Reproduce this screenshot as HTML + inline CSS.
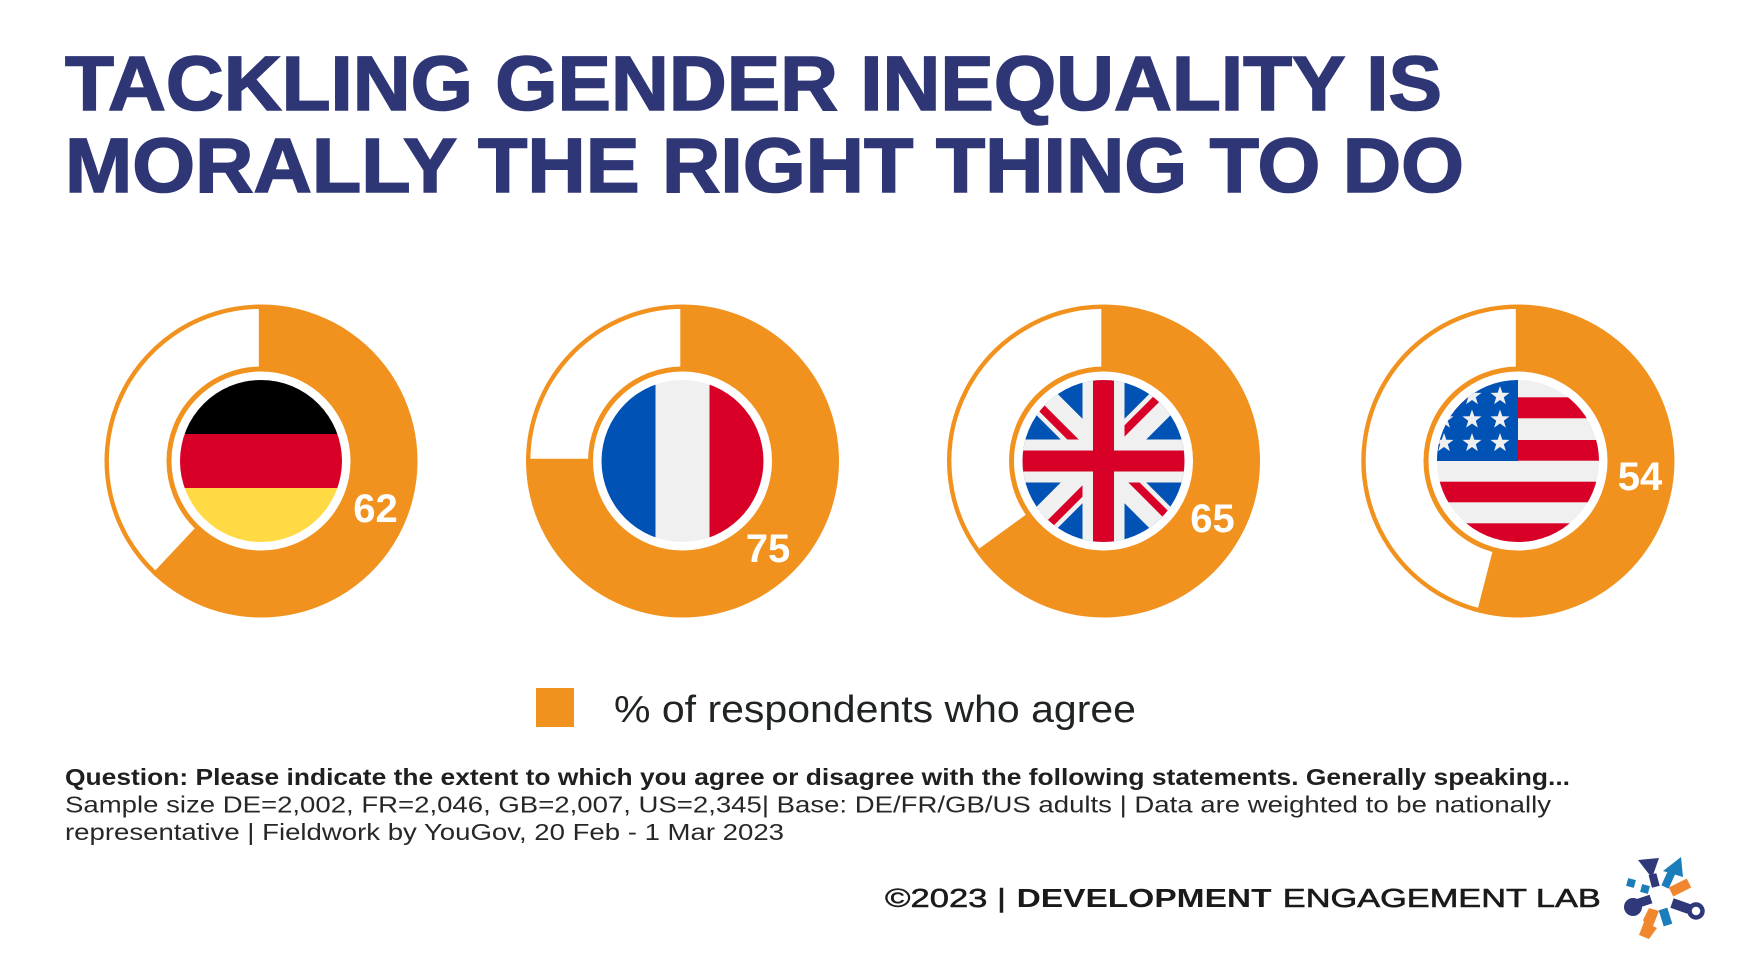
<!DOCTYPE html>
<html>
<head>
<meta charset="utf-8">
<style>
  html, body { margin:0; padding:0; background:#ffffff; }
  body { width:1746px; height:958px; overflow:hidden; }
  svg { display:block; }
  .t { font-family:"Liberation Sans", Arial, sans-serif; }
</style>
</head>
<body>
<svg width="1746" height="958" viewBox="0 0 1746 958" xmlns="http://www.w3.org/2000/svg">
  <defs>
    <clipPath id="cDE"><circle cx="261" cy="461" r="81"/></clipPath>
    <clipPath id="cFR"><circle cx="682.5" cy="461" r="81"/></clipPath>
    <clipPath id="cGB"><circle cx="1103.5" cy="461" r="81"/></clipPath>
    <clipPath id="cUS"><circle cx="1518" cy="461" r="81"/></clipPath>
    <path id="star" d="M0,-10 L2.35,-3.24 L9.51,-3.09 L3.8,1.24 L5.88,8.09 L0,4 L-5.88,8.09 L-3.8,1.24 L-9.51,-3.09 L-2.35,-3.24 Z" fill="#F0F0F0"/>
  </defs>

  <rect width="1746" height="958" fill="#ffffff"/>

  <!-- Title -->
  <text class="t" x="65" y="110" font-size="77" font-weight="700" fill="#2E3676" stroke="#2E3676" stroke-width="1.6" textLength="1377" lengthAdjust="spacingAndGlyphs">TACKLING GENDER INEQUALITY IS</text>
  <text class="t" x="65" y="192" font-size="77" font-weight="700" fill="#2E3676" stroke="#2E3676" stroke-width="1.6" textLength="1399" lengthAdjust="spacingAndGlyphs">MORALLY THE RIGHT THING TO DO</text>

  <!-- ===== Germany 62 ===== -->
  <path d="M261,461 L261,304.5 A156.5,156.5 0 1 1 153.9,575.1 Z" fill="#F2921E"/>
  <path d="M261,461 L155.4,573.5 A154.3,154.3 0 0 1 261,306.7 Z" fill="#ffffff" stroke="#F2921E" stroke-width="4.4" stroke-linejoin="miter"/>
  <circle cx="261" cy="461" r="92" fill="#ffffff" stroke="#F2921E" stroke-width="5"/>
  <g clip-path="url(#cDE)">
    <rect x="178" y="378" width="166" height="56" fill="#000000"/>
    <rect x="178" y="434" width="166" height="54" fill="#D80027"/>
    <rect x="178" y="488" width="166" height="56" fill="#FFDA44"/>
  </g>
  <text class="t" x="375.5" y="522" font-size="40" font-weight="700" fill="#ffffff" text-anchor="middle">62</text>

  <!-- ===== France 75 ===== -->
  <path d="M682.5,461 L682.5,304.5 A156.5,156.5 0 1 1 526,461 Z" fill="#F2921E"/>
  <path d="M682.5,461 L528.2,461 A154.3,154.3 0 0 1 682.5,306.7 Z" fill="#ffffff" stroke="#F2921E" stroke-width="4.4"/>
  <circle cx="682.5" cy="461" r="92" fill="#ffffff" stroke="#F2921E" stroke-width="5"/>
  <g clip-path="url(#cFR)">
    <rect x="599" y="378" width="56.5" height="166" fill="#0052B4"/>
    <rect x="655.5" y="378" width="54" height="166" fill="#F0F0F0"/>
    <rect x="709.5" y="378" width="56" height="166" fill="#D80027"/>
  </g>
  <text class="t" x="768" y="562" font-size="40" font-weight="700" fill="#ffffff" text-anchor="middle">75</text>

  <!-- ===== UK 65 ===== -->
  <path d="M1103.5,461 L1103.5,304.5 A156.5,156.5 0 1 1 976.9,553 Z" fill="#F2921E"/>
  <path d="M1103.5,461 L978.7,551.7 A154.3,154.3 0 0 1 1103.5,306.7 Z" fill="#ffffff" stroke="#F2921E" stroke-width="4.4"/>
  <circle cx="1103.5" cy="461" r="92" fill="#ffffff" stroke="#F2921E" stroke-width="5"/>
  <g clip-path="url(#cGB)">
    <rect x="1020" y="378" width="167" height="166" fill="#0052B4"/>
    <line x1="1013.5" y1="371" x2="1193.5" y2="551" stroke="#F0F0F0" stroke-width="30"/>
    <line x1="1193.5" y1="371" x2="1013.5" y2="551" stroke="#F0F0F0" stroke-width="30"/>
    <!-- offset red diagonals -->
    <line x1="1013.5" y1="371" x2="1103.5" y2="461" stroke="#D80027" stroke-width="8" transform="translate(-4 5)"/>
    <line x1="1103.5" y1="461" x2="1193.5" y2="551" stroke="#D80027" stroke-width="8" transform="translate(4 -5)"/>
    <line x1="1193.5" y1="371" x2="1103.5" y2="461" stroke="#D80027" stroke-width="8" transform="translate(-4 -5)"/>
    <line x1="1103.5" y1="461" x2="1013.5" y2="551" stroke="#D80027" stroke-width="8" transform="translate(4 5)"/>
    <rect x="1082.5" y="378" width="42" height="166" fill="#F0F0F0"/>
    <rect x="1020" y="439.5" width="167" height="43" fill="#F0F0F0"/>
    <rect x="1093" y="378" width="21" height="166" fill="#D80027"/>
    <rect x="1020" y="450.5" width="167" height="21" fill="#D80027"/>
  </g>
  <text class="t" x="1212.5" y="532" font-size="40" font-weight="700" fill="#ffffff" text-anchor="middle">65</text>

  <!-- ===== USA 54 ===== -->
  <path d="M1518,461 L1518,304.5 A156.5,156.5 0 1 1 1479.1,612.6 Z" fill="#F2921E"/>
  <path d="M1518,461 L1479.6,610.5 A154.3,154.3 0 0 1 1518,306.7 Z" fill="#ffffff" stroke="#F2921E" stroke-width="4.4"/>
  <circle cx="1518" cy="461" r="92" fill="#ffffff" stroke="#F2921E" stroke-width="5"/>
  <g clip-path="url(#cUS)">
    <rect x="1435" y="378" width="166" height="166" fill="#F0F0F0"/>
    <rect x="1435" y="397.3" width="166" height="21" fill="#D80027"/>
    <rect x="1435" y="440" width="166" height="20.7" fill="#D80027"/>
    <rect x="1435" y="481.7" width="166" height="20.6" fill="#D80027"/>
    <rect x="1435" y="523.3" width="166" height="22" fill="#D80027"/>
    <rect x="1435" y="378" width="83" height="83" fill="#0052B4"/>
    <use href="#star" x="1444" y="396"/>
    <use href="#star" x="1472" y="396"/>
    <use href="#star" x="1500" y="396"/>
    <use href="#star" x="1444" y="419.5"/>
    <use href="#star" x="1472" y="419.5"/>
    <use href="#star" x="1500" y="419.5"/>
    <use href="#star" x="1444" y="443"/>
    <use href="#star" x="1472" y="443"/>
    <use href="#star" x="1500" y="443"/>
  </g>
  <text class="t" x="1640" y="490" font-size="40" font-weight="700" fill="#ffffff" text-anchor="middle">54</text>

  <!-- Legend -->
  <rect x="536" y="688" width="38" height="39" fill="#F2921E"/>
  <text class="t" x="614" y="722" font-size="38" fill="#1F2420" textLength="522" lengthAdjust="spacingAndGlyphs">% of respondents who agree</text>

  <!-- Footnote -->
  <text class="t" x="65" y="785" font-size="23" font-weight="700" fill="#1E201E" textLength="1505" lengthAdjust="spacingAndGlyphs">Question: Please indicate the extent to which you agree or disagree with the following statements. Generally speaking...</text>
  <text class="t" x="65" y="812.7" font-size="23" fill="#262826" textLength="1486" lengthAdjust="spacingAndGlyphs">Sample size DE=2,002, FR=2,046, GB=2,007, US=2,345| Base: DE/FR/GB/US adults | Data are weighted to be nationally</text>
  <text class="t" x="65" y="840" font-size="23" fill="#262826" textLength="719" lengthAdjust="spacingAndGlyphs">representative | Fieldwork by YouGov, 20 Feb - 1 Mar 2023</text>

  <!-- Copyright -->
  <text class="t" x="885" y="907" font-size="26" fill="#1A1A1A" stroke="#1A1A1A" stroke-width="0.5" textLength="121" lengthAdjust="spacingAndGlyphs">©2023 |</text>
  <text class="t" x="1016.6" y="907" font-size="26" font-weight="700" fill="#1A1A1A" textLength="255" lengthAdjust="spacingAndGlyphs">DEVELOPMENT</text>
  <text class="t" x="1282.8" y="907" font-size="26" fill="#1A1A1A" stroke="#1A1A1A" stroke-width="0.6" textLength="318" lengthAdjust="spacingAndGlyphs">ENGAGEMENT LAB</text>

  <!-- Logo -->
  <g>
    <!-- navy arrowhead up-left -->
    <polygon points="1638,860 1659,858 1652,878" fill="#2F3878"/>
    <rect x="1650" y="874" width="8" height="13" fill="#2F3878" transform="rotate(-15 1654 880)"/>
    <!-- blue arrow up-right -->
    <polygon points="1663,871 1681,857 1683,877" fill="#1B7DB9"/>
    <line x1="1665" y1="887" x2="1674" y2="867" stroke="#1B7DB9" stroke-width="8"/>
    <!-- blue small squares -->
    <rect x="1627" y="879" width="8" height="8" fill="#1B7DB9" transform="rotate(15 1631 883)"/>
    <rect x="1641" y="885" width="8" height="8" fill="#1B7DB9" transform="rotate(15 1645 889)"/>
    <!-- navy blob left -->
    <circle cx="1633" cy="907" r="9" fill="#2F3878"/>
    <line x1="1636" y1="904" x2="1651" y2="899" stroke="#2F3878" stroke-width="9"/>
    <!-- orange bar right-top -->
    <line x1="1671" y1="892" x2="1689" y2="883" stroke="#F0862E" stroke-width="10"/>
    <!-- navy right to ring -->
    <line x1="1672" y1="903" x2="1689" y2="909" stroke="#2F3878" stroke-width="10"/>
    <circle cx="1696" cy="911" r="6.5" fill="#ffffff" stroke="#2F3878" stroke-width="4.5"/>
    <!-- blue bar bottom -->
    <line x1="1663" y1="909" x2="1668" y2="925" stroke="#1B7DB9" stroke-width="9"/>
    <!-- orange bar bottom-left -->
    <polygon points="1649,908 1659,911 1653,926 1657,928 1649,939 1639,935 1644,922 1643,920" fill="#F0862E"/>
  </g>
</svg>
</body>
</html>
